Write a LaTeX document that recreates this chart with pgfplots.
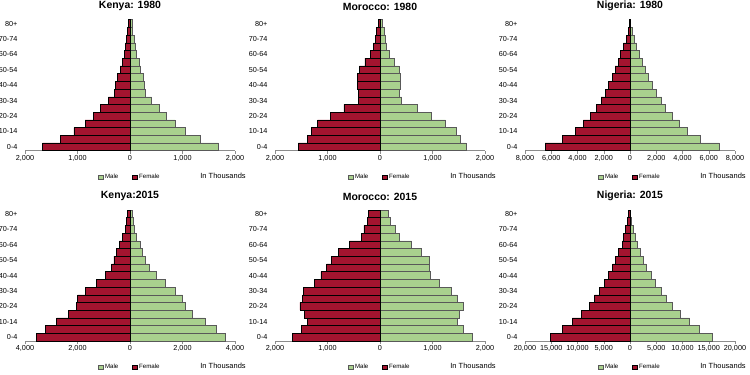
\documentclass[border=0pt]{standalone}
\usepackage{pgfplots}
\usepackage{pgfplotstable}
\pgfplotsset{compat=1.18}
\usepackage{fontspec}
\setmainfont{Liberation Sans}
\definecolor{fem}{HTML}{A3142F}
\definecolor{mal}{HTML}{A9D18E}
\definecolor{axg}{HTML}{8C8C8C}

% columns: y index (0 = 0-4 ... 16 = 80+), male, female (thousands)
\pgfplotstableread{
y m f
0 1689 1663
1 1333 1333
2 1060 1067
3 857 857
4 698 698
5 559 571
6 413 413
7 298 298
8 267 273
9 254 241
10 203 190
11 171 146
12 127 114
13 108 95
14 76 63
15 51 51
16 38 32
}\kenA
\pgfplotstableread{
y m f
0 1638 1556
1 1524 1384
2 1448 1302
3 1244 1187
4 984 952
5 711 686
6 413 413
7 368 413
8 394 432
9 381 425
10 362 394
11 273 286
12 178 190
13 127 127
14 95 95
15 76 63
16 51 38
}\morA
\pgfplotstableread{
y m f
0 6806 6476
1 5333 5130
2 4394 4190
3 3759 3556
4 3200 3048
5 2717 2590
6 2413 2210
7 2032 1905
8 1727 1625
9 1397 1346
10 1168 1143
11 965 889
12 711 711
13 508 508
14 305 305
15 152 152
16 51 51
}\nigA
\pgfplotstableread{
y m f
0 3619 3556
1 3276 3213
2 2857 2794
3 2387 2349
4 2121 2057
5 2006 1994
6 1714 1714
7 1359 1295
8 1016 940
9 737 698
10 571 610
11 483 533
12 381 406
13 254 279
14 165 165
15 127 127
16 102 114
}\kenB
\pgfplotstableread{
y m f
0 1765 1663
1 1587 1492
2 1473 1378
3 1511 1441
4 1587 1524
5 1473 1479
6 1352 1460
7 1130 1257
8 965 1124
9 933 1016
10 933 921
11 794 794
12 603 584
13 368 349
14 286 305
15 190 235
16 159 222
}\morB
\pgfplotstableread{
y m f
0 15619 15238
1 13206 12889
2 11365 10984
3 9524 9206
4 8000 7746
5 6857 6730
6 5968 5905
7 4889 4952
8 4000 4063
9 3048 3302
10 2540 2730
11 2032 2159
12 1397 1524
13 952 1270
14 635 889
15 317 571
16 127 317
}\nigB

\pgfplotsset{
  pyr/.style={
    scale only axis, width=210bp, height=131bp,
    scaled ticks=false,
    xbar, bar width=1, bar shift=0pt,
    ymin=-0.5, ymax=16.5,
    ytick={0,2,...,16},
    yticklabels={0-4,10-14,20-24,30-34,40-44,50-54,60-64,70-74,80+},
    axis x line*=bottom, axis y line*=left,
    x axis line style={-,draw=axg},
    y axis line style={draw=none},
    ytick style={draw=none},
    xtick style={draw=axg},
    tick align=outside, major tick length=3bp,
    ticklabel style={font=\fontsize{7.3}{8}\selectfont},
    xticklabel style={inner sep=1pt, yshift=-0.5bp},
    yticklabel style={xshift=-1bp},
    title style={font=\bfseries\fontsize{10.5}{12}\selectfont, yshift=-0.5bp},
    legend columns=2,
    legend style={at={(0.5,-0.2)}, anchor=center, draw=none, fill=none,
      font=\fontsize{6.2}{7}\selectfont, inner sep=0pt,
      /tikz/every even column/.append style={column sep=12bp}},
    legend image code/.code={\draw[##1,line width=0.3pt] (0bp,-2.2bp) rectangle (4.4bp,2.2bp);},
    clip=false,
  },
  maleb/.style={fill=mal, draw=black!65, line width=0.45pt},
  femb/.style={fill=fem, draw=black, line width=0.45pt},
}

\newcommand{\thou}{\node[font=\fontsize{7.5}{9}\selectfont, inner sep=0.5pt] at (rel axis cs:0.943,-0.19) {In Thousands};}

\begin{document}
\begin{tikzpicture}
\path[use as bounding box] (0,0) rectangle (750bp,375bp);

% Kenya 1980
\begin{axis}[pyr, at={(25bp,224.3bp)}, anchor=south west,
  xmin=-2000, xmax=2000, xtick={-2000,-1000,0,1000,2000},
  xticklabels={{2,000},{1,000},0,{1,000},{2,000}},
  title={Kenya: 1980}]
\addplot[maleb] table[x=m,y=y]{\kenA};
\addplot[femb] table[x expr=-\thisrow{f},y=y]{\kenA};
\legend{Male,Female}
\thou
\end{axis}

% Morocco 1980
\begin{axis}[pyr, at={(275bp,224.3bp)}, anchor=south west,
  xmin=-2000, xmax=2000, xtick={-2000,-1000,0,1000,2000},
  xticklabels={{2,000},{1,000},0,{1,000},{2,000}},
  title={Morocco: 1980}]
\addplot[maleb] table[x=m,y=y]{\morA};
\addplot[femb] table[x expr=-\thisrow{f},y=y]{\morA};
\legend{Male,Female}
\thou
\end{axis}

% Nigeria 1980
\begin{axis}[pyr, at={(525bp,224.3bp)}, anchor=south west,
  xmin=-8000, xmax=8000, xtick={-8000,-6000,...,8000},
  xticklabels={{8,000},{6,000},{4,000},{2,000},0,{2,000},{4,000},{6,000},{8,000}},
  title={Nigeria: 1980}]
\addplot[maleb] table[x=m,y=y]{\nigA};
\addplot[femb] table[x expr=-\thisrow{f},y=y]{\nigA};
\legend{Male,Female}
\thou
\end{axis}

% Kenya 2015
\begin{axis}[pyr, at={(25bp,34bp)}, anchor=south west,
  xmin=-4000, xmax=4000, xtick={-4000,-2000,0,2000,4000},
  xticklabels={{4,000},{2,000},0,{2,000},{4,000}},
  title={Kenya:2015}]
\addplot[maleb] table[x=m,y=y]{\kenB};
\addplot[femb] table[x expr=-\thisrow{f},y=y]{\kenB};
\legend{Male,Female}
\thou
\end{axis}

% Morocco 2015
\begin{axis}[pyr, at={(275bp,34bp)}, anchor=south west,
  xmin=-2000, xmax=2000, xtick={-2000,-1000,0,1000,2000},
  xticklabels={{2,000},{1,000},0,{1,000},{2,000}},
  title={Morocco: 2015}]
\addplot[maleb] table[x=m,y=y]{\morB};
\addplot[femb] table[x expr=-\thisrow{f},y=y]{\morB};
\legend{Male,Female}
\thou
\end{axis}

% Nigeria 2015
\begin{axis}[pyr, at={(525bp,34bp)}, anchor=south west,
  xmin=-20000, xmax=20000, xtick={-20000,-15000,...,20000},
  xticklabels={{20,000},{15,000},{10,000},{5,000},0,{5,000},{10,000},{15,000},{20,000}},
  title={Nigeria: 2015}]
\addplot[maleb] table[x=m,y=y]{\nigB};
\addplot[femb] table[x expr=-\thisrow{f},y=y]{\nigB};
\legend{Male,Female}
\thou
\end{axis}
\end{tikzpicture}
\end{document}
